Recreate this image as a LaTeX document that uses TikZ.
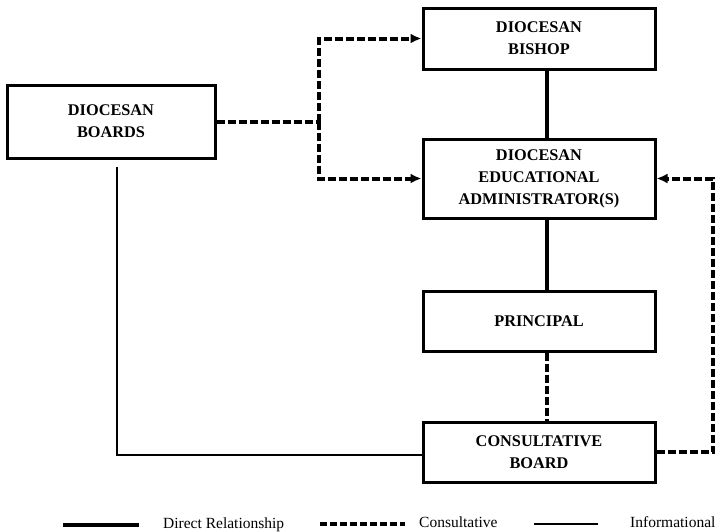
\documentclass[tikz,border=0pt]{standalone}
\usepackage{fontspec}
\setmainfont{Liberation Serif}
\usetikzlibrary{arrows.meta}
\tikzset{
  box/.style={draw, line width=3pt, minimum width=232pt, align=center,
    inner sep=0pt, font=\bfseries\fontsize{16.3}{22}\selectfont},
  direct/.style={line width=4.8pt},
  consult/.style={line width=4pt, dash pattern=on 8pt off 3pt},
  info/.style={line width=2.6pt},
  arr/.style={-{Latex[length=11pt,width=10pt]}},
  legtext/.style={anchor=west, inner sep=0pt, font=\fontsize{15.5}{18}\selectfont}
}
\begin{document}
\begin{tikzpicture}[x=1pt,y=-1pt]
\useasboundingbox (0,0) rectangle (717,531);
% boxes
\node[box, minimum height=61pt] (bishop) at (539,38.5) {DIOCESAN\\BISHOP};
\node[box, minimum height=79pt] (admin) at (539,178.5) {DIOCESAN\\EDUCATIONAL\\ADMINISTRATOR(S)};
\node[box, minimum height=60pt] (principal) at (539,321) {PRINCIPAL};
\node[box, minimum height=60pt] (consultb) at (539,452) {CONSULTATIVE\\BOARD};
\node[box, minimum width=208pt, minimum height=73pt] (boards) at (111,121.5) {DIOCESAN\\BOARDS};
% guide coordinates
\coordinate (cx) at (547,0);
\coordinate (j) at (319,121.5);
\coordinate (rr) at (713,300);
\coordinate (lb) at (117,455);
% direct relationships
\draw[direct] (bishop.south -| cx) -- (admin.north -| cx);
\draw[direct] (admin.south -| cx) -- (principal.north -| cx);
% consultative
\draw[consult] (principal.south -| cx) -- (consultb.north -| cx);
\draw[consult] (boards.east) -- (j);
\draw[consult, arr] (j) |- (bishop.west);
\draw[consult, arr] (j) |- (admin.west);
\draw[consult, arr] (consultb.east) -| (rr) |- (admin.east);
% informational
\draw[info] ([yshift=-7pt]boards.south -| lb) -- (lb) -- (lb -| consultb.west);
% legend
\coordinate (d1) at (63,525); \coordinate (d2) at (139,525);
\coordinate (c1) at (320,524); \coordinate (c2) at (405,524);
\coordinate (i1) at (534,524); \coordinate (i2) at (598,524);
\draw[line width=4pt] (d1) -- (d2);
\draw[line width=3.4pt, dash pattern=on 7pt off 3pt] (c1) -- (c2);
\draw[line width=1.8pt] (i1) -- (i2);
\node[legtext] (ld) at (163,525) {Direct Relationship};
\node[legtext] (lc) at (419,522) {Consultative};
\node[legtext] (li) at (630,522) {Informational};
\end{tikzpicture}
\end{document}
